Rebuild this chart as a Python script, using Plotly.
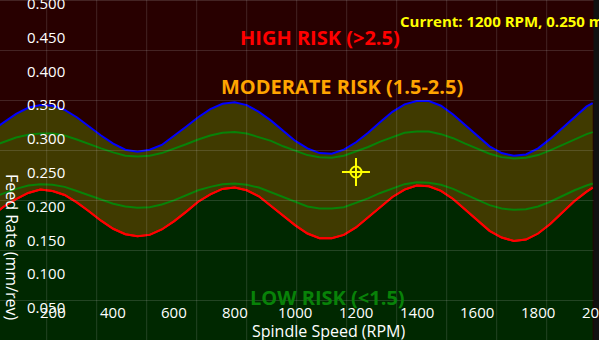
import plotly.graph_objects as go

# Spindle speed samples (RPM)
rpm = [0, 40, 80, 120, 160, 200, 240, 280, 320, 360, 400, 440, 480, 520, 560,
       600, 640, 680, 720, 760, 800, 840, 880, 920, 960, 1000, 1040, 1080, 1120,
       1160, 1200, 1240, 1280, 1320, 1360, 1400, 1440, 1480, 1520, 1560, 1600,
       1640, 1680, 1720, 1760, 1800, 1840, 1880, 1920, 1960, 1980]

# Upper stability boundary (risk index 2.5), mm/rev
high_limit = [0.311, 0.324, 0.336, 0.345, 0.349, 0.348, 0.342, 0.331, 0.317, 0.304,
              0.292, 0.283, 0.280, 0.283, 0.290, 0.303, 0.317, 0.331, 0.343, 0.351,
              0.353, 0.349, 0.339, 0.326, 0.311, 0.296, 0.285, 0.278, 0.277, 0.283,
              0.294, 0.308, 0.324, 0.339, 0.350, 0.355, 0.355, 0.348, 0.335, 0.319,
              0.303, 0.288, 0.278, 0.274, 0.276, 0.285, 0.299, 0.315, 0.332, 0.347,
              0.352]

# Lower stability boundary (risk index 1.5), mm/rev
low_limit = [0.185, 0.199, 0.210, 0.219, 0.224, 0.222, 0.216, 0.205, 0.192, 0.178,
             0.166, 0.158, 0.155, 0.157, 0.165, 0.177, 0.191, 0.206, 0.217, 0.225,
             0.227, 0.223, 0.214, 0.200, 0.185, 0.171, 0.159, 0.152, 0.152, 0.157,
             0.168, 0.183, 0.199, 0.213, 0.224, 0.230, 0.229, 0.222, 0.210, 0.194,
             0.178, 0.163, 0.153, 0.148, 0.150, 0.159, 0.173, 0.190, 0.207, 0.221,
             0.227]

# Inner contour lines inside the moderate band, mm/rev
contour_upper = [0.288, 0.295, 0.301, 0.305, 0.307, 0.307, 0.304, 0.298, 0.291, 0.285,
                 0.279, 0.274, 0.273, 0.274, 0.278, 0.284, 0.291, 0.298, 0.304, 0.308,
                 0.309, 0.307, 0.302, 0.296, 0.288, 0.281, 0.275, 0.272, 0.271, 0.274,
                 0.280, 0.287, 0.295, 0.302, 0.308, 0.310, 0.310, 0.306, 0.300, 0.292,
                 0.284, 0.277, 0.272, 0.270, 0.271, 0.275, 0.282, 0.290, 0.299, 0.306,
                 0.309]
contour_lower = [0.212, 0.219, 0.225, 0.230, 0.232, 0.231, 0.228, 0.222, 0.216, 0.209,
                 0.203, 0.199, 0.197, 0.198, 0.202, 0.208, 0.215, 0.223, 0.228, 0.232,
                 0.233, 0.231, 0.227, 0.220, 0.212, 0.205, 0.199, 0.196, 0.196, 0.198,
                 0.204, 0.211, 0.219, 0.226, 0.232, 0.235, 0.234, 0.231, 0.225, 0.217,
                 0.209, 0.201, 0.196, 0.194, 0.195, 0.199, 0.206, 0.215, 0.223, 0.230,
                 0.233]

# Current operating point
current_rpm = 1200
current_feed = 0.250

# Axis tick labels
x_ticks = [200, 400, 600, 800, 1000, 1200, 1400, 1600, 1800, 2000]
y_ticks = [0.0, 0.05, 0.1, 0.15, 0.2, 0.25, 0.3, 0.35, 0.4, 0.45, 0.5]

BG_HIGH = "#280000"
BG_MOD = "#403a00"
BG_LOW = "#002800"
FONT = "Open Sans"

fig = go.Figure()

# Low-risk region: everything below the lower boundary
fig.add_trace(go.Scatter(x=rpm, y=low_limit, mode="lines",
                         line=dict(color="#ff0000", width=2),
                         fill="tozeroy", fillcolor=BG_LOW, hoverinfo="skip"))
# Moderate band between the two boundaries
fig.add_trace(go.Scatter(x=rpm, y=high_limit, mode="lines",
                         line=dict(color="#0000ff", width=2),
                         fill="tonexty", fillcolor=BG_MOD, hoverinfo="skip"))
# Redraw the lower boundary on top of the band fill
fig.add_trace(go.Scatter(x=rpm, y=low_limit, mode="lines",
                         line=dict(color="#ff0000", width=2), hoverinfo="skip"))
for ys in (contour_upper, contour_lower):
    fig.add_trace(go.Scatter(x=rpm, y=ys, mode="lines",
                             line=dict(color="#088208", width=2), hoverinfo="skip"))

# Operating point crosshair
fig.add_trace(go.Scatter(x=[current_rpm], y=[current_feed], mode="markers",
                         marker=dict(symbol="cross-thin-open", size=20, color="#ffff00",
                                     line=dict(color="#ffff00", width=2))))
fig.add_trace(go.Scatter(x=[current_rpm], y=[current_feed], mode="markers",
                         marker=dict(symbol="circle-open", size=11, color="#ffff00",
                                     line=dict(color="#ffff00", width=2))))

W, H = 599, 340
shapes = []
grid_col = "rgba(210,210,210,0.17)"
for k in range(12):
    px = 46.7 + 50 * k
    shapes.append(dict(type="line", xref="paper", yref="paper",
                       x0=px / W, x1=px / W, y0=0, y1=1,
                       line=dict(color=grid_col, width=1), layer="above"))
for k in range(7):
    py = 0.5 + 50 * k
    shapes.append(dict(type="line", xref="paper", yref="paper",
                       x0=0, x1=1, y0=1 - py / H, y1=1 - py / H,
                       line=dict(color=grid_col, width=1), layer="above"))
# dark frame strip on the right edge
shapes.append(dict(type="rect", xref="paper", yref="paper",
                   x0=593.5 / W, x1=1.01, y0=0, y1=1,
                   fillcolor="#111111", line=dict(width=0), layer="above"))

ann = []
for v in x_ticks:
    ann.append(dict(x=v, y=1 - 312 / H, xref="x", yref="paper", text=str(v),
                    showarrow=False, xanchor="center", yanchor="middle",
                    font=dict(family=FONT, size=15, color="#ffffff")))
for v in y_ticks:
    ann.append(dict(x=25 / W, y=v, xref="paper", yref="y", text=f"{v:.3f}",
                    showarrow=False, xanchor="left", yanchor="middle",
                    font=dict(family=FONT, size=15, color="#ffffff")))


def label(px, py, text, size, color, angle=0):
    return dict(x=px / W, y=1 - py / H, xref="paper", yref="paper", text=text,
                showarrow=False, xanchor="center", yanchor="middle", textangle=angle,
                font=dict(family=FONT, size=size, color=color))


ann += [
    label(328, 331, "Spindle Speed (RPM)", 16, "#ffffff"),
    label(12, 247, "Feed Rate (mm/rev)", 16, "#ffffff", angle=90),
    label(320, 37, "<b>HIGH RISK (>2.5)</b>", 20, "#ff0000"),
    label(341.5, 86, "<b>MODERATE RISK (1.5-2.5)</b>", 20, "#ffa500"),
    label(327, 297, "<b>LOW RISK (<1.5)</b>", 20, "#088208"),
    dict(x=398 / W, y=1 - 21 / H, xref="paper", yref="paper",
         text=f"<b>Current: {current_rpm} RPM, {current_feed:.3f} mm/rev</b>",
         showarrow=False, xanchor="left", yanchor="middle",
         font=dict(family=FONT, size=15, color="#ffff00")),
]

fig.update_layout(
    width=W, height=H, autosize=False,
    margin=dict(l=0, r=0, t=0, b=0, pad=0),
    paper_bgcolor=BG_HIGH, plot_bgcolor=BG_HIGH,
    showlegend=False,
    xaxis=dict(range=[27.0, 2000.7], showgrid=False, zeroline=False,
               showticklabels=False, ticks="", showline=False, fixedrange=True),
    yaxis=dict(range=[0.00148, 0.50444], showgrid=False, zeroline=False,
               showticklabels=False, ticks="", showline=False, fixedrange=True),
    shapes=shapes, annotations=ann,
)

fig.write_html("out.html")
